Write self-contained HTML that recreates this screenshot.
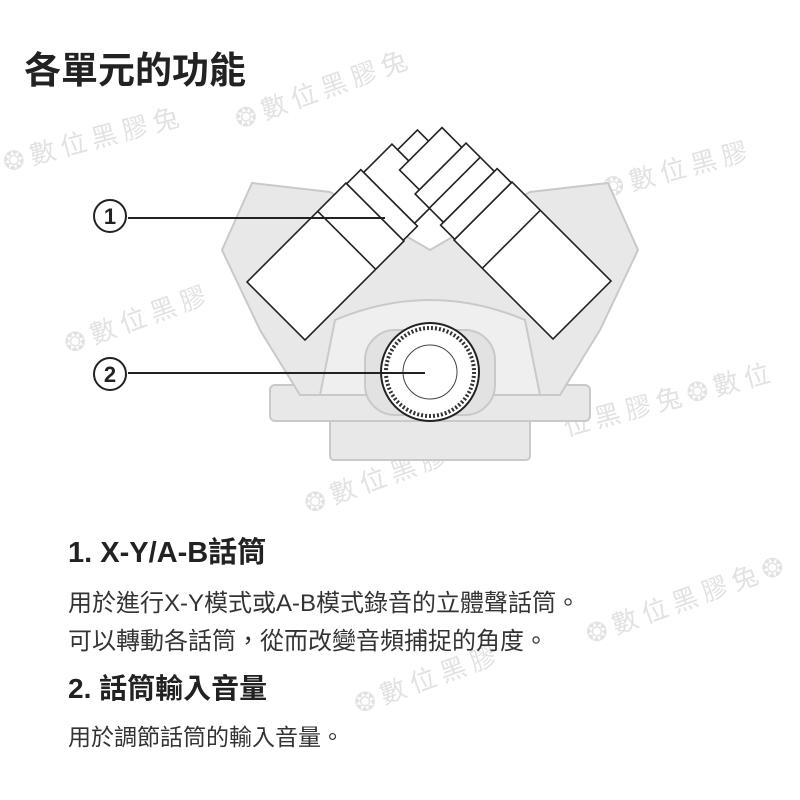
<!DOCTYPE html>
<html><head><meta charset="utf-8"><style>
body{margin:0;width:800px;height:800px;background:#fff;overflow:hidden;position:relative;font-family:"Liberation Sans","Noto Sans CJK TC",sans-serif;}
.t{position:absolute;white-space:nowrap;color:#222;}
.wm{position:absolute;white-space:nowrap;color:#e2e2e2;font-size:26px;font-family:"Noto Sans CJK TC",sans-serif;}
</style></head><body>
<div class="wm" style="left:230px;top:70px;transform:rotate(-20deg)">❂ 數 位 黑 膠 兔</div>
<div class="wm" style="left:0px;top:120px;transform:rotate(-15deg)">❂ 數 位 黑 膠 兔</div>
<div class="wm" style="left:600px;top:150px;transform:rotate(-15deg)">❂ 數 位 黑 膠</div>
<div class="wm" style="left:60px;top:300px;transform:rotate(-20deg)">❂ 數 位 黑 膠</div>
<div class="wm" style="left:560px;top:380px;transform:rotate(-15deg)">位 黑 膠 兔 ❂ 數 位</div>
<div class="wm" style="left:300px;top:460px;transform:rotate(-20deg)">❂ 數 位 黑 膠</div>
<div class="wm" style="left:580px;top:580px;transform:rotate(-20deg)">❂ 數 位 黑 膠 兔 ❂</div>
<div class="wm" style="left:350px;top:660px;transform:rotate(-20deg)">❂ 數 位 黑 膠</div>
<svg style="position:absolute;left:0;top:0" width="800" height="800">
<g fill="#e8e8e8" stroke="#c9c9c9" stroke-width="2">
<rect x="330" y="405" width="200" height="55" rx="4"/>
<rect x="270" y="385" width="320" height="36" rx="5"/>
<path d="M222,250 L252,183 L330,192 L430,250 L530,192 L608,183 L638,250 L600,330 L560,395 L300,395 L260,330 Z"/>
<path d="M320,395 L335,320 Q430,280 525,320 L540,395 Z" fill="#efefef"/>
<rect x="365" y="330" width="130" height="85" rx="30" fill="#e2e2e2"/>
</g>
<g transform="translate(276,311) rotate(45)" fill="#fff" stroke="#222" stroke-width="1.6">
<rect x="-41" y="-140" width="82" height="140"/>
<line x1="-41" y1="-100" x2="41" y2="-100"/>
<rect x="-40" y="-160" width="80" height="20"/>
<rect x="-36" y="-200" width="72" height="40"/>
<rect x="-28" y="-228" width="56" height="28"/>
</g>
<g transform="translate(582,310) rotate(-45)" fill="#fff" stroke="#222" stroke-width="1.6">
<rect x="-41" y="-140" width="82" height="140"/>
<line x1="-41" y1="-100" x2="41" y2="-100"/>
<rect x="-40" y="-160" width="80" height="20"/>
<rect x="-36" y="-200" width="72" height="40"/>
<line x1="-36" y1="-180" x2="36" y2="-180"/>
<rect x="-30" y="-228" width="60" height="28"/>
</g>
<circle cx="430" cy="372" r="49" fill="#fff" stroke="#222" stroke-width="2"/>
<circle cx="430" cy="372" r="44" fill="none" stroke="#333" stroke-width="4" stroke-dasharray="2 2"/>
<circle cx="430" cy="372" r="27" fill="#fff" stroke="#444" stroke-width="1"/>
<line x1="128" y1="218" x2="385" y2="218" stroke="#222" stroke-width="2"/>
<line x1="128" y1="373" x2="425" y2="373" stroke="#222" stroke-width="2"/>
<circle cx="110" cy="216" r="16" fill="#fff" stroke="#222" stroke-width="2"/>
<circle cx="110" cy="374" r="16" fill="#fff" stroke="#222" stroke-width="2"/>
<text x="110" y="224" font-size="22" font-weight="bold" text-anchor="middle" font-family="Liberation Sans,sans-serif" fill="#222">1</text>
<text x="110" y="382" font-size="22" font-weight="bold" text-anchor="middle" font-family="Liberation Sans,sans-serif" fill="#222">2</text>
</svg>
<div class="t" style="left:24px;top:40px;font-size:37px;font-weight:bold;">各單元的功能</div>
<div class="t" style="left:68px;top:529px;font-size:29px;font-weight:bold;">1. X-Y/A-B話筒</div>
<div class="t" style="left:68px;top:583px;font-size:24px;color:#333">用於進行X-Y模式或A-B模式錄音的立體聲話筒。</div>
<div class="t" style="left:68px;top:621px;font-size:24px;color:#333">可以轉動各話筒，從而改變音頻捕捉的角度。</div>
<div class="t" style="left:68px;top:667px;font-size:28px;font-weight:bold;">2. 話筒輸入音量</div>
<div class="t" style="left:68px;top:718px;font-size:23px;color:#333">用於調節話筒的輸入音量。</div>
</body></html>
